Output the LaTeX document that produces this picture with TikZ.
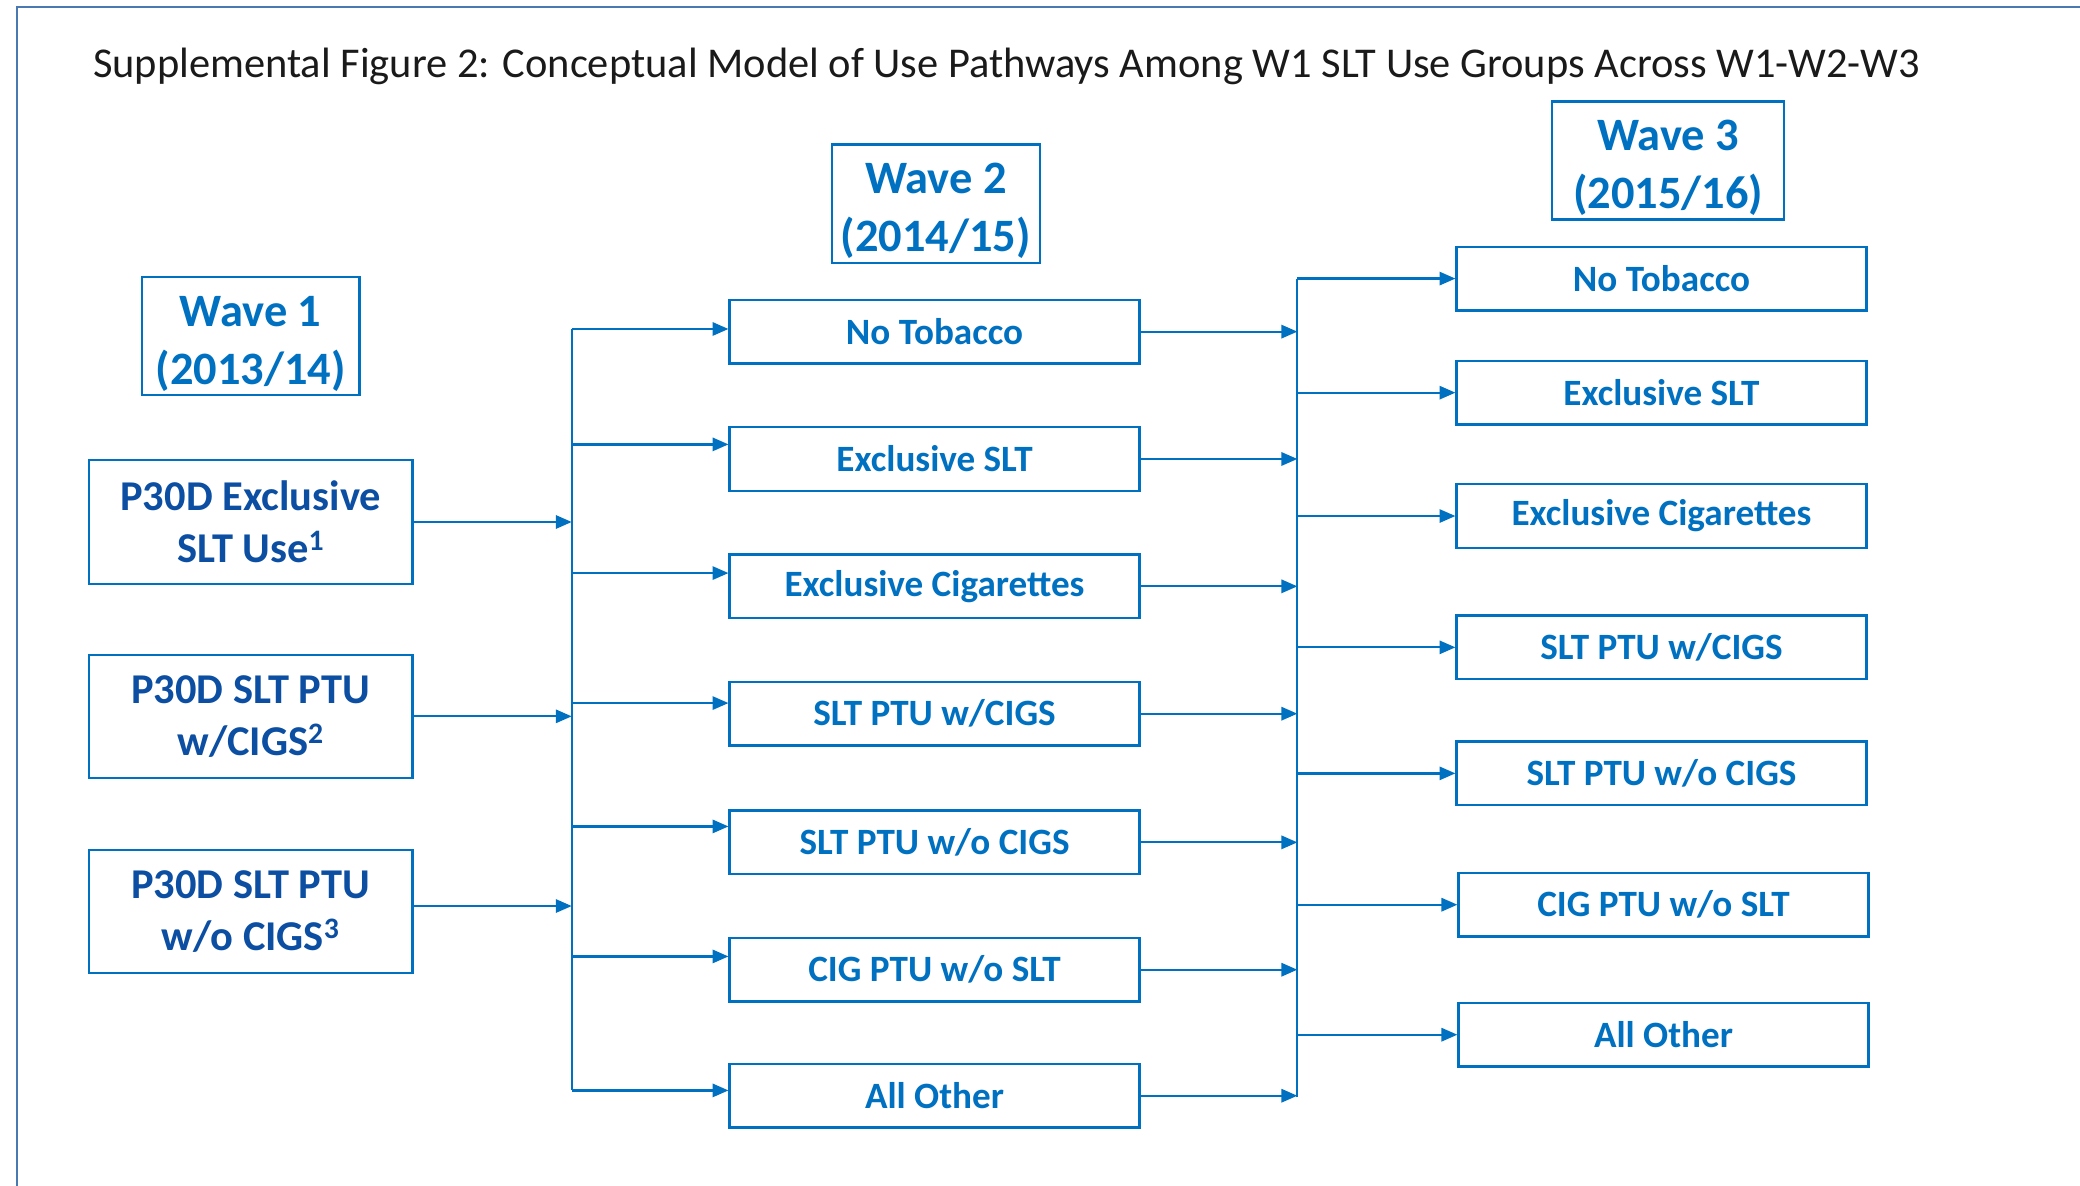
\documentclass[tikz,border=0pt]{standalone}
\usepackage{fontspec}
\setmainfont{Carlito}
\usetikzlibrary{arrows.meta,calc}
\definecolor{bl}{HTML}{0070C0}
\definecolor{dbl}{HTML}{0B4EA2}
\definecolor{framec}{HTML}{4A78B0}
\definecolor{titlec}{HTML}{1A1A1A}
\newcommand{\wstrut}{\rule{0pt}{34pt}}
\begin{document}
\begin{tikzpicture}[x=1pt,y=-1pt,
 box/.style={draw=bl, line width=1.7pt, align=center, font=\fontsize{28}{34}\selectfont\bfseries, text=bl, minimum width=309pt, minimum height=48pt, inner sep=0pt},
 w1box/.style={draw=bl, line width=1.7pt, align=center, font=\fontsize{32}{39}\selectfont\bfseries, text=dbl, minimum width=244pt, minimum height=93pt, inner sep=0pt},
 wave/.style={draw=bl, line width=1.7pt, align=center, font=\fontsize{35}{44}\selectfont\bfseries, text=bl, minimum height=89pt, inner sep=0pt},
 arr/.style={draw=bl, line width=1.7pt, -{Triangle[length=12pt,width=10pt]}},
 ln/.style={draw=bl, line width=1.7pt}]
\useasboundingbox (0,0) rectangle (1568,894);
\draw[framec, line width=1.6pt] (13,894) -- (13,5) -- (1568,5);

\node[anchor=west, font=\fontsize{32}{38}\selectfont, text=titlec, inner sep=0pt] (title) at (70,50) {Supplemental Figure 2: Conceptual Model of Use Pathways Among W1 SLT Use Groups Across W1-W2-W3};

\node[wave, minimum width=164pt] (wv1) at (189,253.5) {\wstrut Wave 1\\(2013/14)};
\node[wave, minimum width=157pt] (wv2) at (705.5,153.5) {\wstrut Wave 2\\(2014/15)};
\node[wave, minimum width=175pt] (wv3) at (1257.5,121) {\wstrut Wave 3\\(2015/16)};

\node[w1box] (a1) at (189,393.5) {P30D Exclusive\\SLT Use\textsuperscript{1}};
\node[w1box] (a2) at (189,540) {P30D SLT PTU\\w/CIGS\textsuperscript{2}};
\node[w1box] (a3) at (189,687) {P30D SLT PTU\\w/o CIGS\textsuperscript{3}};

\node[box] (b1) at (704.5,250) {No Tobacco};
\node[box] (b2) at (704.5,346) {Exclusive SLT};
\node[box] (b3) at (704.5,442) {Exclusive Cigarettes};
\node[box] (b4) at (704.5,538) {SLT PTU w/CIGS};
\node[box] (b5) at (704.5,635) {SLT PTU w/o CIGS};
\node[box] (b6) at (704.5,731) {CIG PTU w/o SLT};
\node[box] (b7) at (704.5,826) {All Other};

\node[box] (c1) at (1252.5,210) {No Tobacco};
\node[box] (c2) at (1252.5,296) {Exclusive SLT};
\node[box] (c3) at (1252.5,389) {Exclusive Cigarettes};
\node[box] (c4) at (1252.5,488) {SLT PTU w/CIGS};
\node[box] (c5) at (1252.5,583) {SLT PTU w/o CIGS};
\node[box] (c6) at (1254,682) {CIG PTU w/o SLT};
\node[box] (c7) at (1254,780) {All Other};

% trunk 1
\coordinate (t1top) at (431,248);
\coordinate (t1bot) at (431,822);
\draw[ln] (t1top) -- (t1bot);
\draw[arr] (a1.east) -- (a1.east -| t1top);
\draw[arr] (a2.east) -- (a2.east -| t1top);
\draw[arr] ([yshift=4pt]a3.east) -- ([yshift=4pt]a3.east -| t1top);

\coordinate (p1) at (431,248);
\coordinate (p2) at (431,335);
\coordinate (p3) at (431,432);
\coordinate (p4) at (431,530);
\coordinate (p5) at (431,623);
\coordinate (p6) at (431,721);
\coordinate (p7) at (431,822);
\draw[arr] (p1) -- (p1 -| b1.west);
\draw[arr] (p2) -- (p2 -| b2.west);
\draw[arr] (p3) -- (p3 -| b3.west);
\draw[arr] (p4) -- (p4 -| b4.west);
\draw[arr] (p5) -- (p5 -| b5.west);
\draw[arr] (p6) -- (p6 -| b6.west);
\draw[arr] (p7) -- (p7 -| b7.west);

% trunk 2
\coordinate (t2top) at (978,210);
\coordinate (t2bot) at (978,827);
\draw[ln] (t2top) -- (t2bot);
\foreach \n in {b1,b2,b3,b4,b5,b6,b7}{
  \draw[arr] (\n.east) -- (\n.east -| t2top);
}
\foreach \n in {c1,c2,c3,c4,c5,c6,c7}{
  \draw[arr] (\n.west -| t2top) -- (\n.west);
}
\end{tikzpicture}
\end{document}
